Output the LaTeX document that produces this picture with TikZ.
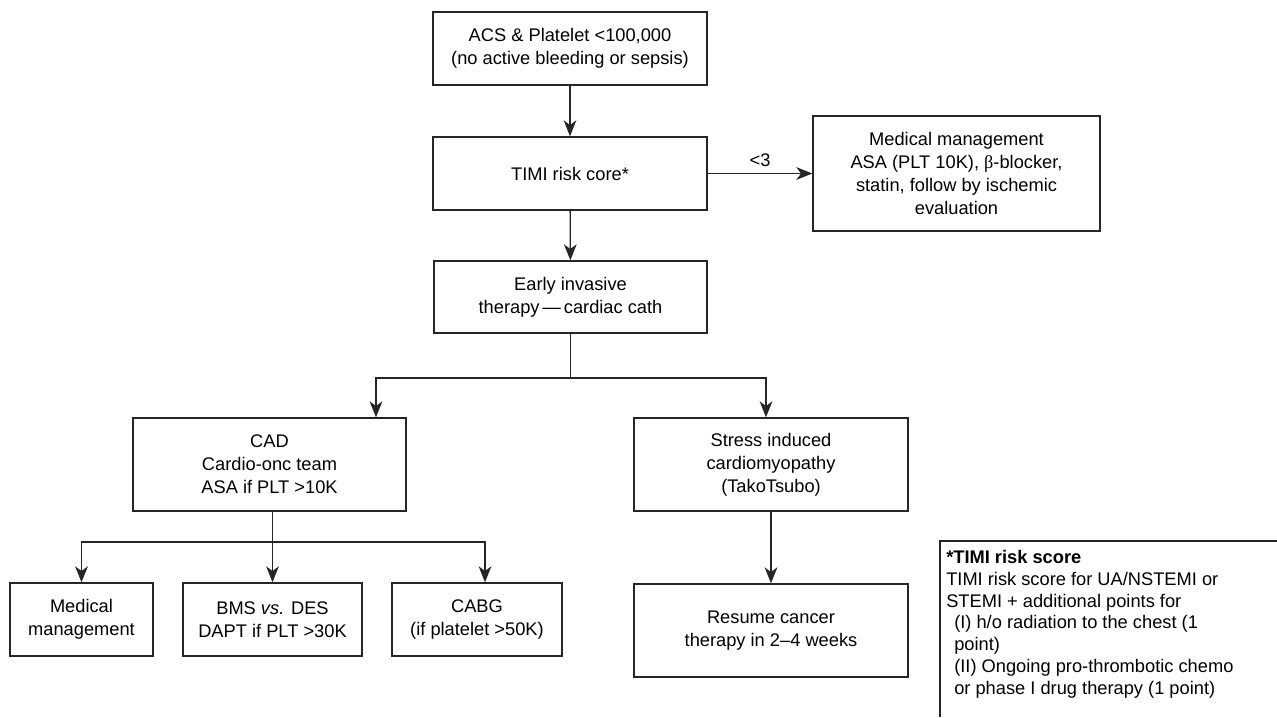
\documentclass[tikz,border=0pt]{standalone}
\usepackage{fontspec}
\setmainfont{Liberation Sans}
\newfontfamily\greekfont{Liberation Serif}
\usetikzlibrary{arrows.meta,calc}

\tikzset{
    box/.style={draw=black!85, line width=1pt, inner sep=0pt, align=center,
        font=\fontsize{13.7}{17.25}\selectfont},
    arr/.style={draw=black!85, line width=1pt, -{Stealth[length=12pt, width=9.5pt, inset=3.5pt]}},
    ln/.style={draw=black!85, line width=1pt}
}

\begin{document}
\begin{tikzpicture}[x=0.75pt, y=-0.75pt]
                \useasboundingbox (0, 0) rectangle (1277, 717);

                \node[box, minimum width=205.5pt, minimum height=54.75pt] (acs) at (570, 48.5) {ACS \& Platelet <100,000\\(no active bleeding or sepsis)};
                \node[box, minimum width=205.5pt, minimum height=54.75pt] (timi) at (570, 173.5) {TIMI risk core*};
                \node[box, minimum width=215.25pt, minimum height=86.25pt] (medical) at (956.5, 173.5) {Medical management\\ASA (PLT 10K), {\greekfont β}-blocker,\\statin, follow by ischemic\\evaluation};
                \node[box, minimum width=204.75pt, minimum height=54pt] (early) at (570.5, 297) {Early invasive\\therapy\,---\,cardiac cath};

                \node[box, minimum width=204.75pt, minimum height=69.75pt] (cad) at (269.5, 464.5) {CAD\\Cardio-onc team\\ASA if PLT >10K};
                \node[box, minimum width=205.5pt, minimum height=69.75pt] (stress) at (771, 464.5) {Stress induced\\cardiomyopathy\\(TakoTsubo)};

                \node[box, minimum width=107.25pt, minimum height=54.75pt] (medmgmt) at (81.5, 619.5) {Medical\\management};
                \node[box, minimum width=134.25pt, minimum height=54.75pt] (bms) at (272.5, 619.5) {BMS \textit{vs.} DES\\DAPT if PLT >30K};
                \node[box, minimum width=127.5pt, minimum height=54.75pt] (cabg) at (477, 619.5) {CABG\\(if platelet >50K)};
                \node[box, minimum width=205.5pt, minimum height=69.75pt] (resume) at (771, 630.5) {Resume cancer\\therapy in 2--4 weeks};

                \draw[arr] (acs) -- (timi);
                \draw[arr] (timi) -- (medical) node[midway, above=1pt, font=\fontsize{13.7}{17.25}\selectfont] {<3};
                \draw[arr] (timi) -- (early);

                \coordinate (split) at (570.5, 378);
                \draw[ln] (early.south) -- (split);
                \draw[arr] (split) -| ($(cad.north) + (106.5, 0)$);
                \draw[arr] (split) -| ($(stress.north) + (-5, 0)$);

                \coordinate (cadsplit) at (272.5, 542);
                \draw[ln] ($(cad.south) + (3, 0)$) -- (cadsplit);
                \draw[arr] (cadsplit) -| (medmgmt.north);
                \draw[arr] (cadsplit) -- (bms.north);
                \draw[arr] (cadsplit) -| ($(cabg.north) + (8, 0)$);

                \draw[arr] (stress) -- (resume);

                % note on the score
                \draw[ln] (1277, 541) -- (940, 541) -- (940, 717);
                \node[anchor=north west, inner sep=0pt, align=left, font=\fontsize{13.7}{16.35}\selectfont] (note) at (946, 550)
                    {\textbf{*TIMI risk score}\\TIMI risk score for UA/NSTEMI or\\STEMI + additional points for\\
                     \hspace*{6pt}(I) h/o radiation to the chest (1\\\hspace*{6pt}point)\\
                     \hspace*{6pt}(II) Ongoing pro-thrombotic chemo\\\hspace*{6pt}or phase I drug therapy (1 point)};
            \end{tikzpicture}
\end{document}
